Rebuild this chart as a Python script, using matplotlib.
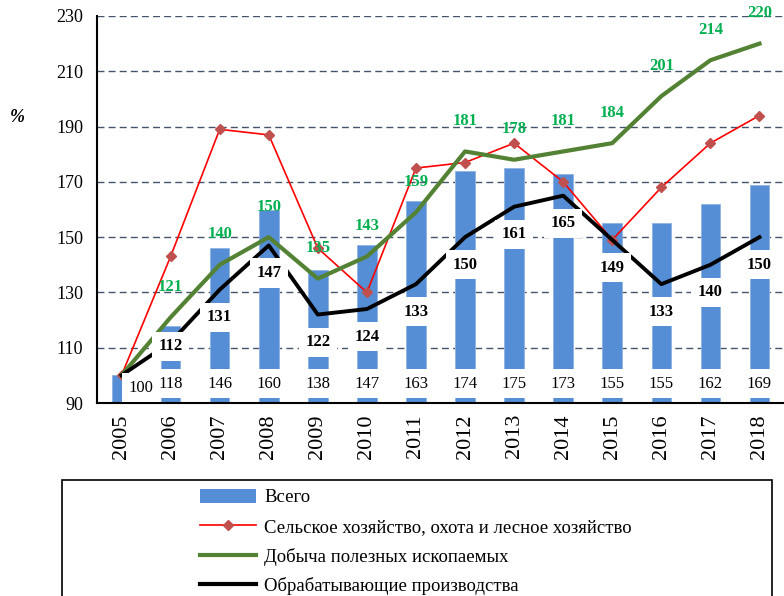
import matplotlib
matplotlib.use("Agg")
import matplotlib.pyplot as plt
from matplotlib.patches import Rectangle
from matplotlib.lines import Line2D
import numpy as np

plt.rcParams['font.family'] = ['Liberation Serif', 'DejaVu Serif']

# data
years = ['2005', '2006', '2007', '2008', '2009', '2010', '2011',
         '2012', '2013', '2014', '2015', '2016', '2017', '2018']
total = [100, 118, 146, 160, 138, 147, 163, 174, 175, 173, 155, 155, 162, 169]
agri = [100, 143, 189, 187, 146, 130, 175, 177, 184, 170, 149, 168, 184, 194]
mining = [100, 121, 140, 150, 135, 143, 159, 181, 178, 181, 184, 201, 214, 220]
manuf = [100, 112, 131, 147, 122, 124, 133, 150, 161, 165, 149, 133, 140, 150]

lbl_total = 'Всего'
lbl_agri = 'Сельское хозяйство, охота и лесное хозяйство'
lbl_mining = 'Добыча полезных ископаемых'
lbl_manuf = 'Обрабатывающие производства'

bar_c = '#558ED5'
red_c = '#FF0000'
marker_c = '#C0504D'
green_c = '#548235'
green_txt = '#00B050'
grid_c = '#44546A'

fig = plt.figure(figsize=(7.84, 5.96), dpi=100)
ax = fig.add_axes([97/784, (596-403)/596, 687/784, 387/596])

x = np.arange(len(years))
ymin = 90

# bars start at axis minimum
ax.bar(x, np.array(total) - ymin, bottom=ymin, width=0.4, color=bar_c,
       edgecolor='#8EB4E3', linewidth=0.6, zorder=2)

ax.plot(x, agri, color=red_c, lw=1.2, marker='D', ms=5.5,
        mfc=marker_c, mec=marker_c, zorder=4)
ax.plot(x, mining, color=green_c, lw=3, zorder=5)
ax.plot(x, manuf, color='black', lw=2.8, zorder=6)

# bar labels near the bottom
for i, v in enumerate(total):
    dx = 0.39 if i == 0 else 0.0
    dy = -1.5 if i == 0 else 0.0
    z = 7.5 if i == 0 else 7
    ax.text(x[i] + dx, 97 + dy, str(v), ha='center', va='center', fontsize=12,
            zorder=z, bbox=dict(boxstyle='square,pad=0.4', fc='white', ec='none'))

# manufacturing labels below the line, kept above the bar labels
for i, v in enumerate(manuf):
    if i == 0:
        continue
    ax.text(x[i], max(v - 10, 110.5), str(v), ha='center', va='center',
            fontsize=12, fontweight='bold', zorder=8,
            bbox=dict(boxstyle='square,pad=0.4', fc='white', ec='none'))

# mining labels above the line
for i, v in enumerate(mining):
    if i == 0:
        continue
    ax.text(x[i], v + 11, str(v), ha='center', va='center', fontsize=12,
            fontweight='bold', color=green_txt, zorder=9, clip_on=False)

ax.set_xlim(-0.5, len(years) - 0.5)
ax.set_ylim(90, 230)
ax.set_yticks(np.arange(90, 231, 20))
ax.set_xticks(x)
ax.set_xticklabels(years, rotation=90, fontsize=16)
ax.tick_params(axis='y', length=0, pad=10, labelsize=13)
ax.tick_params(axis='x', length=0, pad=8)

for y in range(110, 231, 20):
    ax.axhline(y, color=grid_c, lw=1, ls=(0, (5, 3)), zorder=1)

ax.spines['top'].set_visible(False)
ax.spines['right'].set_visible(False)
ax.spines['left'].set_linewidth(1.5)
ax.spines['bottom'].set_linewidth(1.5)

fig.text(10/784, 1 - 117/596, '%', fontsize=13, fontweight='bold',
         fontstyle='italic', ha='left', va='center')

# legend frame
fig.patches.append(Rectangle((62/784, -0.05), (772-62)/784, (596-480)/596 + 0.05,
                             transform=fig.transFigure, fill=False,
                             ec='black', lw=1.2))

handles = [
    Rectangle((0, 0), 1, 1, fc=bar_c, ec='none'),
    Line2D([], [], color=red_c, lw=1.2, marker='D', ms=5, mfc=marker_c, mec=marker_c),
    Line2D([], [], color=green_c, lw=3),
    Line2D([], [], color='black', lw=3),
]
fig.legend(handles, [lbl_total, lbl_agri, lbl_mining, lbl_manuf],
           loc='upper left', bbox_to_anchor=(192/784, 1 - 481/596),
           frameon=False, fontsize=13.5, handlelength=3.0, handleheight=0.8,
           labelspacing=0.63, handletextpad=0.45, borderaxespad=0)

fig.savefig('out.png', dpi=100)
